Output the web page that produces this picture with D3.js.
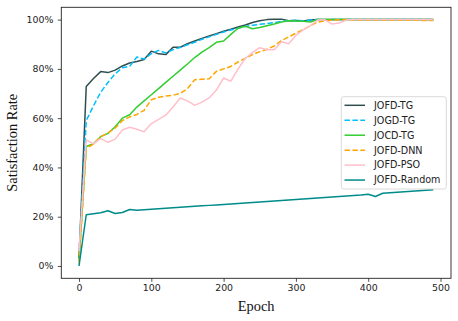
<!DOCTYPE html>
<html>
<head>
<meta charset="utf-8">
<script src="https://cdn.jsdelivr.net/npm/d3@7"></script>
<style>
  body { margin: 0; background: #fff; }
  svg { display: block; }
</style>
</head>
<body>
<div id="chart"></div>
<script>
// epochs and satisfaction rate (%) per method
const epochs = [0, 10, 20, 30, 40, 50, 60, 70, 80, 90,
  100, 110, 120, 130, 140, 150, 160, 170, 180, 190,
  200, 210, 220, 230, 240, 250, 260, 270, 280, 290,
  300, 310, 320, 330, 340, 350, 360, 370, 380, 390,
  400, 410, 420, 430, 440, 450, 460, 470, 480, 490];

const jofdTG = [3, 72.9, 76.1, 78.9, 78.5, 79.5, 81.2, 82.4, 83, 83.8,
  87.2, 86.1, 85.8, 88.8, 88.8, 90.2, 91.3, 92.4, 93.4, 94.3,
  95.3, 96.1, 97, 97.8, 98.8, 99.5, 100, 100.1, 100.2, 99.5,
  99.6, 99.4, 99.8, 100, 100, 100, 100, 100, 100, 100,
  100, 100, 100, 100, 100, 100, 100, 100, 100, 100];

const jogdTG = [5, 59, 65, 70.5, 74.5, 78, 80.5, 81, 84.8, 84,
  86.2, 87.5, 86.5, 87.8, 88.7, 89.8, 90.8, 92, 93, 94,
  95, 95.8, 96.5, 97.2, 97.7, 98.1, 98.4, 98.8, 99.3, 99.6,
  99.7, 99.5, 99.8, 100, 99.9, 100, 100, 100, 100, 100,
  100, 100, 100, 100, 100, 100, 100, 100, 100, 100];

const jocdTG = [2, 48.5, 49.6, 52.5, 53.8, 56.5, 60, 61.4, 64.5, 67,
  69.5, 72, 74.5, 77, 79.5, 82, 84.6, 86.8, 88.6, 90.8,
  91.3, 94, 96.5, 97.3, 96.3, 96.8, 97.5, 98.2, 99, 99.5,
  99.4, 99.3, 99, 100, 100, 100, 100, 100, 100, 100,
  100, 100, 100, 100, 100, 100, 100, 100, 100, 100];

const jofdDNN = [1, 47.8, 49.5, 52.5, 54, 56, 59, 60.5, 61.5, 63.2,
  67.5, 68.5, 69, 69.3, 70, 72, 75.6, 75.8, 76, 79,
  80, 81, 82.8, 84.3, 85.8, 87, 88, 89.3, 91.5, 93,
  94.5, 96, 97.5, 99, 99.5, 99.8, 99.9, 100, 99.8, 99.8,
  99.9, 99.8, 99.8, 99.7, 99.8, 99.7, 99.8, 99.7, 99.6, 99.6];

const jofdPSO = [6, 51.2, 49.6, 51.8, 50.2, 51.5, 55.2, 56.3, 55.5, 54.5,
  57.8, 59.5, 61.2, 64.5, 68.2, 67, 65.2, 66.5, 68.2, 71.4,
  76.3, 75, 80, 84.2, 86.7, 88.6, 87.8, 87.8, 91, 90.2,
  93.6, 95.8, 97.6, 99.8, 99.9, 98.2, 98.6, 99.8, 100, 100,
  100, 100, 100, 100, 100, 100, 100, 100, 100, 100];

const jofdRandom = [0, 20.8, 21.2, 21.6, 22.4, 21.3, 21.7, 22.9, 22.6, 22.8,
  23, 23.2, 23.4, 23.6, 23.8, 24, 24.2, 24.4, 24.6, 24.8,
  25, 25.2, 25.4, 25.6, 25.8, 26, 26.2, 26.4, 26.6, 26.8,
  27, 27.2, 27.4, 27.6, 27.8, 28, 28.2, 28.4, 28.6, 28.8,
  29.1, 28.2, 29.5, 29.7, 29.9, 30.1, 30.3, 30.5, 30.7, 30.9];

const seriesNames = ["JOFD-TG", "JOGD-TG", "JOCD-TG", "JOFD-DNN", "JOFD-PSO", "JOFD-Random"];
const seriesValues = [jofdTG, jogdTG, jocdTG, jofdDNN, jofdPSO, jofdRandom];
const seriesColors = ["#2f4f4f", "#00bfff", "#32cd32", "#ffa500", "#ffc0cb", "#008b8b"];
const seriesDashed = [false, true, false, true, false, false];

const xTicks = [0, 100, 200, 300, 400, 500];
const yTicks = [0, 20, 40, 60, 80, 100];

const width = 458, height = 321;
const plot = { left: 61.3, right: 451, top: 7.3, bottom: 278.3 };

const svg = d3.select("#chart").append("svg")
    .attr("width", width)
    .attr("height", height);

const x = d3.scaleLinear().domain([-24.5, 514.5]).range([plot.left, plot.right]);
const y = d3.scaleLinear().domain([-5, 105]).range([plot.bottom, plot.top]);

const tickFont = "DejaVu Sans, sans-serif";

// x axis
const xAxis = svg.append("g")
    .attr("transform", `translate(0,${plot.bottom})`)
    .call(d3.axisBottom(x).tickValues(xTicks).tickSize(3.5).tickPadding(3).tickSizeOuter(0));
xAxis.select(".domain").remove();
xAxis.selectAll("text").style("font-family", tickFont).style("font-size", "9.4px").attr("fill", "#222");
xAxis.selectAll("line").attr("stroke", "#222").attr("stroke-width", 0.8);

// y axis
const yAxis = svg.append("g")
    .attr("transform", `translate(${plot.left},0)`)
    .call(d3.axisLeft(y).tickValues(yTicks).tickFormat(d => d + "%").tickSize(3.5).tickPadding(4.5).tickSizeOuter(0));
yAxis.select(".domain").remove();
yAxis.selectAll("text").style("font-family", tickFont).style("font-size", "9.4px").attr("fill", "#222");
yAxis.selectAll("line").attr("stroke", "#222").attr("stroke-width", 0.8);

// lines
const clip = svg.append("defs").append("clipPath").attr("id", "plotclip")
  .append("rect")
    .attr("x", plot.left).attr("y", plot.top)
    .attr("width", plot.right - plot.left).attr("height", plot.bottom - plot.top);

const line = d3.line()
    .x((d, i) => x(epochs[i]))
    .y(d => y(d));

const lines = svg.append("g").attr("clip-path", "url(#plotclip)");
seriesValues.forEach((vals, k) => {
  lines.append("path")
      .datum(vals)
      .attr("d", line)
      .attr("fill", "none")
      .attr("stroke", seriesColors[k])
      .attr("stroke-width", 1.5)
      .attr("stroke-linejoin", "round")
      .attr("stroke-dasharray", seriesDashed[k] ? "5.5,2.4" : null);
});

// frame
svg.append("rect")
    .attr("x", plot.left).attr("y", plot.top)
    .attr("width", plot.right - plot.left).attr("height", plot.bottom - plot.top)
    .attr("fill", "none")
    .attr("stroke", "#222")
    .attr("stroke-width", 0.9);

// axis titles
svg.append("text")
    .attr("x", (plot.left + plot.right) / 2)
    .attr("y", 311)
    .attr("text-anchor", "middle")
    .style("font-family", "Liberation Serif, Times New Roman, serif")
    .style("font-size", "14.4px")
    .attr("fill", "#111")
    .text("Epoch");

svg.append("text")
    .attr("transform", `translate(17.3,${(plot.top + plot.bottom) / 2}) rotate(-90)`)
    .attr("text-anchor", "middle")
    .style("font-family", "Liberation Serif, Times New Roman, serif")
    .style("font-size", "14.4px")
    .attr("fill", "#111")
    .text("Satisfaction Rate");

// legend
const legend = svg.append("g");
legend.append("rect")
    .attr("x", 341.3).attr("y", 96.7)
    .attr("width", 105).attr("height", 92.3)
    .attr("rx", 2.5)
    .attr("fill", "#fff").attr("fill-opacity", 0.8)
    .attr("stroke", "#d0d0d0").attr("stroke-width", 0.8);

seriesNames.forEach((name, k) => {
  const cy = 105.3 + k * 14.95;
  legend.append("line")
      .attr("x1", 344.5).attr("x2", 365)
      .attr("y1", cy).attr("y2", cy)
      .attr("stroke", seriesColors[k])
      .attr("stroke-width", 1.5)
      .attr("stroke-dasharray", seriesDashed[k] ? "5.5,2.4" : null);
  legend.append("text")
      .attr("x", 374).attr("y", cy)
      .attr("dy", "0.35em")
      .style("font-family", tickFont)
      .style("font-size", "9.6px")
      .attr("fill", "#222")
      .text(name);
});
</script>
</body>
</html>
